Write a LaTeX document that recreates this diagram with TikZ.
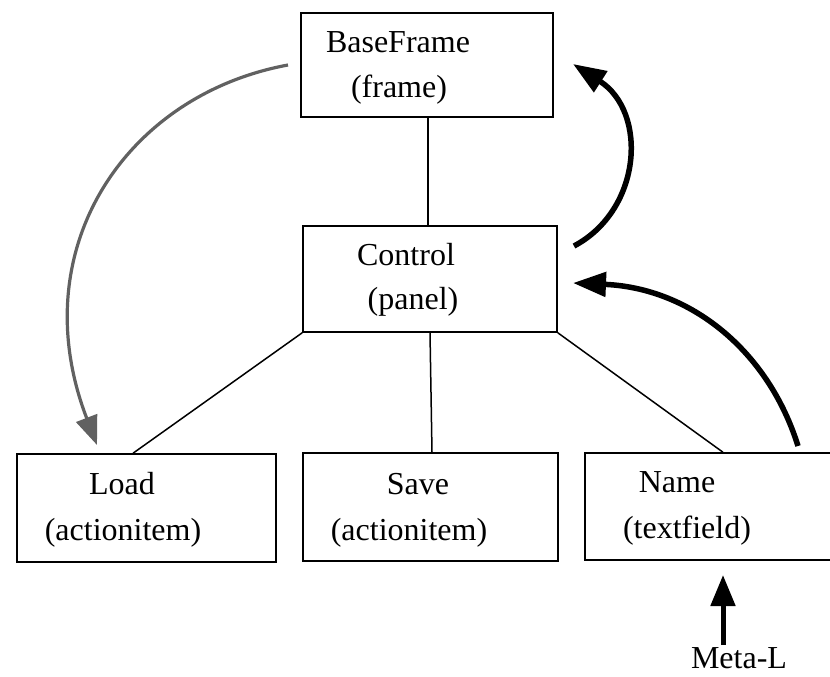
\documentclass[tikz,border=0pt]{standalone}
\usepackage{fontspec}
\setmainfont{Liberation Serif}
\usetikzlibrary{arrows.meta}
\begin{document}
\begin{tikzpicture}[x=1pt,y=-1pt,
  box/.style={draw,line width=1.5pt,minimum width=#1,minimum height=107pt,inner sep=0pt},
  lbl/.style={anchor=base,inner sep=0pt,font=\fontsize{32}{38}\selectfont},
  link/.style={line width=1.5pt},
  bigarrow/.style={line width=5.5pt,-{Triangle[length=33pt,width=24pt]}},
  softarrow/.style={line width=3.2pt,draw=black!62,-{Triangle[length=29pt,width=22pt,fill=black!62]}}]
  \clip (0,0) rectangle (830,677);

  % boxes
  \node[box=252pt,minimum height=104pt] (bf)   at (427,65)   {};
  \node[box=254pt,minimum height=106pt] (ctl)  at (430,279)  {};
  \node[box=259pt,minimum height=108pt] (load) at (146.5,508){};
  \node[box=255pt,minimum height=108pt] (save) at (430.5,507){};
  \node[box=250pt,minimum height=107pt] (name) at (710,506.5){};

  % box captions
  \node[lbl] (bft)  at (398,53)  {BaseFrame};
  \node[lbl] (bfs)  at (399,97)  {(frame)};
  \node[lbl] (ctlt) at (406,265) {Control};
  \node[lbl] (ctls) at (413,309) {(panel)};
  \node[lbl] (ldt)  at (122,494) {Load};
  \node[lbl] (lds)  at (123,540) {(actionitem)};
  \node[lbl] (svt)  at (418,494) {Save};
  \node[lbl] (svs)  at (409,540) {(actionitem)};
  \node[lbl] (nmt)  at (677,492) {Name};
  \node[lbl] (nms)  at (687,538) {(textfield)};
  \node[lbl] (metal) at (739,668) {Meta-L};

  % containment tree
  \draw[link] ([xshift=1pt]bf.south) -- ([xshift=-2pt]ctl.north);
  \draw[link] (ctl.south west) -- ([xshift=-13.5pt]load.north);
  \draw[link] (ctl.south) -- ([xshift=1.5pt]save.north);
  \draw[link] (ctl.south east) -- ([xshift=13pt]name.north);

  % event flow
  \coordinate (g0) at (288,65);
  \coordinate (g1) at (97,445);
  \draw[softarrow] (g0) .. controls (125,95) and (22,250) .. (g1);

  \coordinate (a0) at (574,246);
  \coordinate (a1) at (573,64);
  \draw[bigarrow] (a0) .. controls (642,210) and (648,112) .. (a1);

  \coordinate (b0) at (798,446);
  \coordinate (b1) at (573,283);
  \draw[bigarrow] (b0) .. controls (768,350) and (690,288) .. (b1);

  \coordinate (m0) at (723,645);
  \coordinate (m1) at (723,575);
  \draw[line width=5pt,-{Triangle[length=31pt,width=24pt]}] (m0) -- (m1);
\end{tikzpicture}
\end{document}
